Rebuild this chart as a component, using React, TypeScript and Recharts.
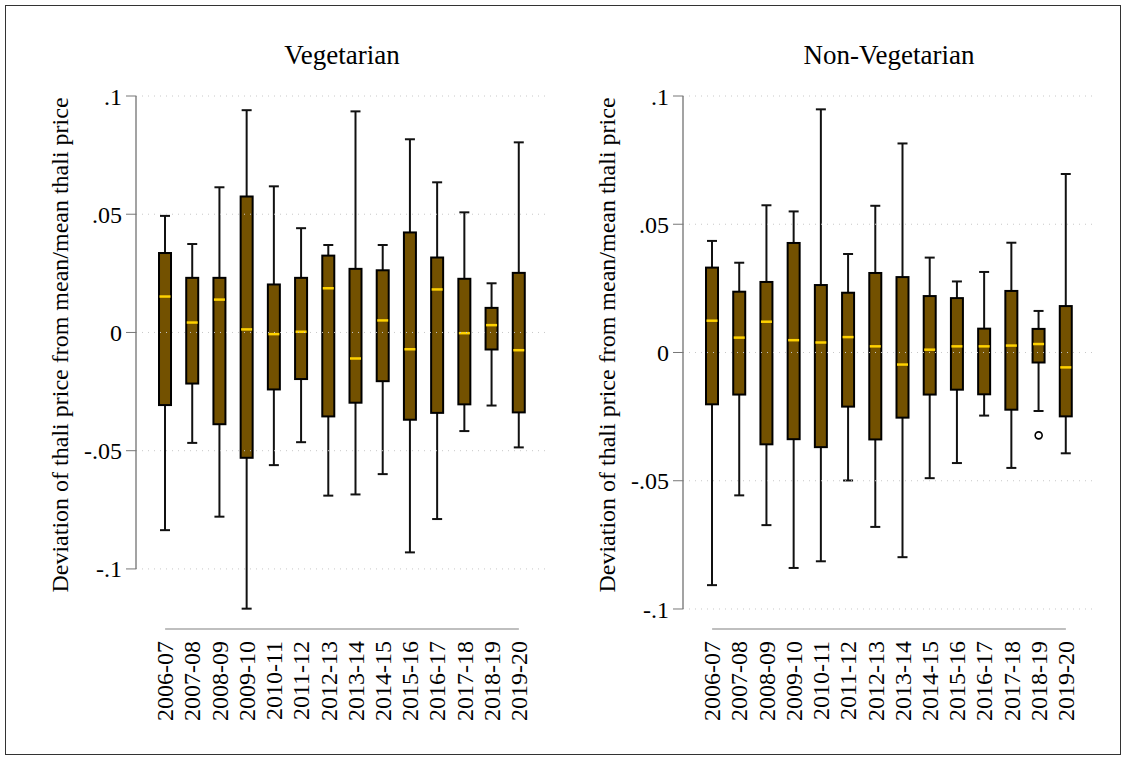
import React from 'react';
import { ComposedChart, Bar, Scatter, XAxis, YAxis, ReferenceLine } from 'recharts';

const years = [
  '2006-07', '2007-08', '2008-09', '2009-10', '2010-11', '2011-12', '2012-13',
  '2013-14', '2014-15', '2015-16', '2016-17', '2017-18', '2018-19', '2019-20',
];

// Vegetarian thali: whisker ends, quartiles and medians
const vegMin = [-0.0836, -0.0467, -0.0779, -0.1168, -0.0561, -0.0464, -0.069, -0.0685, -0.0599, -0.093, -0.0789, -0.0417, -0.0309, -0.0486];
const vegQ1 = [-0.0307, -0.0216, -0.0388, -0.053, -0.0241, -0.0197, -0.0355, -0.0297, -0.0206, -0.0369, -0.034, -0.0304, -0.0072, -0.0338];
const vegMedian = [0.0152, 0.0042, 0.0139, 0.0013, -0.0007, 0.0003, 0.0187, -0.011, 0.0051, -0.0071, 0.0182, -0.0003, 0.0031, -0.0075];
const vegQ3 = [0.0336, 0.0231, 0.0231, 0.0575, 0.0203, 0.0231, 0.0325, 0.0269, 0.0263, 0.0423, 0.0317, 0.0227, 0.0104, 0.0252];
const vegMax = [0.0493, 0.0374, 0.0614, 0.094, 0.0618, 0.0441, 0.037, 0.0935, 0.037, 0.0817, 0.0635, 0.0508, 0.0208, 0.0804];

// Non-vegetarian thali
const nonVegMin = [-0.0907, -0.0557, -0.0673, -0.084, -0.0814, -0.0499, -0.068, -0.0798, -0.049, -0.0431, -0.0246, -0.045, -0.0228, -0.0393];
const nonVegQ1 = [-0.0202, -0.0164, -0.0358, -0.0338, -0.0369, -0.0211, -0.0339, -0.0254, -0.0164, -0.0145, -0.0163, -0.0223, -0.0039, -0.0249];
const nonVegMedian = [0.0124, 0.0058, 0.012, 0.0048, 0.0039, 0.006, 0.0024, -0.0047, 0.0011, 0.0024, 0.0024, 0.0027, 0.0033, -0.0058];
const nonVegQ3 = [0.0331, 0.0237, 0.0275, 0.0427, 0.0263, 0.0233, 0.031, 0.0294, 0.022, 0.0212, 0.0093, 0.024, 0.0092, 0.0181];
const nonVegMax = [0.0435, 0.035, 0.0574, 0.055, 0.0948, 0.0384, 0.0572, 0.0815, 0.037, 0.0277, 0.0314, 0.0428, 0.0162, 0.0696];
const nonVegOutlierYears = ['2018-19'];
const nonVegOutlierValues = [-0.0323];

const yTicks = [-0.1, -0.05, 0, 0.05, 0.1];

const FONT = '"Liberation Serif", "Times New Roman", serif';
const BOX_FILL = '#735100';
const MEDIAN = '#ffd200';

const fmtTick = (v: number) => {
  if (v === 0) return '0';
  return String(v).replace('0.', '.');
};

const BoxShape = (props: any) => {
  const { x, y, width, height, payload } = props;
  if (x == null || y == null) return null;
  const top = Math.min(y, y + height);
  const bottom = Math.max(y, y + height);
  const span = payload.max - payload.min;
  const toPx = (v: number) => top + ((payload.max - v) / span) * (bottom - top);
  const cx = x + width / 2;
  const q3y = toPx(payload.q3);
  const q1y = toPx(payload.q1);
  const my = toPx(payload.median);
  return (
    <g>
      <line x1={cx} x2={cx} y1={top} y2={q3y} stroke="#111" strokeWidth={2} />
      <line x1={cx} x2={cx} y1={q1y} y2={bottom} stroke="#111" strokeWidth={2} />
      <line x1={cx - 5} x2={cx + 5} y1={top} y2={top} stroke="#111" strokeWidth={2} />
      <line x1={cx - 5} x2={cx + 5} y1={bottom} y2={bottom} stroke="#111" strokeWidth={2} />
      <rect x={cx - 6} y={q3y} width={12} height={q1y - q3y} fill={BOX_FILL} stroke="#000" strokeWidth={2} />
      <line x1={cx - 5.5} x2={cx + 5.5} y1={my} y2={my} stroke={MEDIAN} strokeWidth={2.5} />
    </g>
  );
};

const YearTick = (props: any) => {
  const { x, y, payload } = props;
  return (
    <text
      x={x}
      y={y}
      transform={`rotate(-90, ${x}, ${y})`}
      textAnchor="end"
      dy="0.34em"
      fontSize={24}
      fontFamily={FONT}
      fill="#000"
    >
      {years[payload.value - 1]}
    </text>
  );
};

interface PanelProps {
  mins: number[];
  q1s: number[];
  medians: number[];
  q3s: number[];
  maxs: number[];
  yMin: number;
  outlierYears?: string[];
  outlierValues?: number[];
  left: number;
}

const Panel: React.FC<PanelProps> = ({ mins, q1s, medians, q3s, maxs, yMin, outlierYears = [], outlierValues = [], left }) => {
  const data = years.map((year, i) => ({
    year,
    pos: i + 1,
    min: mins[i],
    q1: q1s[i],
    median: medians[i],
    q3: q3s[i],
    max: maxs[i],
  }));
  const outliers = outlierYears.map((yr, i) => ({ pos: years.indexOf(yr) + 1, value: outlierValues[i] }));
  const xMin = -0.07;
  const xMax = 15.07;

  return (
    <div style={{ position: 'absolute', left, top: 0 }}>
      <ComposedChart width={562} height={757} data={data} margin={{ top: 96, right: 14, bottom: 28, left: 56 }}>
        <XAxis
          type="number"
          dataKey="pos"
          domain={[xMin, xMax]}
          ticks={years.map((_, i) => i + 1)}
          interval={0}
          allowDataOverflow
          axisLine={false}
          tickLine={false}
          tick={<YearTick />}
          tickMargin={6}
          height={100}
        />
        <YAxis
          type="number"
          domain={[yMin, 0.1]}
          ticks={yTicks}
          allowDataOverflow
          axisLine={false}
          tickLine={{ stroke: '#777' }}
          tickSize={10}
          tickMargin={4}
          width={80}
          tickFormatter={fmtTick}
          tick={{ fontSize: 24, fontFamily: FONT, fill: '#000' }}
        />
        {yTicks.map((t) => (
          <ReferenceLine key={t} y={t} stroke="#c8c8c8" strokeDasharray="1 5" ifOverflow="visible" />
        ))}
        <ReferenceLine
          segment={[{ x: xMin, y: 0.1 }, { x: xMin, y: -0.1 }]}
          stroke="#666"
          strokeWidth={1.2}
          ifOverflow="visible"
        />
        <ReferenceLine
          segment={[{ x: 1, y: yMin }, { x: 14, y: yMin }]}
          stroke="#aaa"
          strokeWidth={1.5}
          ifOverflow="visible"
        />
        <Bar
          dataKey={(d: any) => [d.min, d.max]}
          barSize={13}
          shape={<BoxShape />}
          isAnimationActive={false}
        />
        {outliers.length > 0 && (
          <Scatter
            data={outliers}
            dataKey="value"
            isAnimationActive={false}
            shape={(p: any) => <circle cx={p.cx} cy={p.cy} r={3.5} fill="none" stroke="#000" strokeWidth={1.6} />}
          />
        )}
      </ComposedChart>
    </div>
  );
};

export default function App() {
  return (
    <div style={{ position: 'relative', width: 1124, height: 757, background: '#fff', fontFamily: FONT }}>
      <style>{'body{margin:0}'}</style>
      <div
        style={{
          position: 'absolute',
          left: 5,
          top: 5,
          width: 1116,
          height: 750,
          border: '1px solid #333',
          boxSizing: 'border-box',
        }}
      />
      <svg width={1124} height={757} style={{ position: 'absolute', left: 0, top: 0 }}>
        <text x={342} y={64} textAnchor="middle" fontSize={27} fontFamily={FONT} fill="#000">Vegetarian</text>
        <text x={889} y={64} textAnchor="middle" fontSize={27} fontFamily={FONT} fill="#000">Non-Vegetarian</text>
        <text
          x={60}
          y={345}
          transform="rotate(-90, 60, 345)"
          textAnchor="middle"
          dy="0.34em"
          fontSize={24}
          fontFamily={FONT}
          fill="#000"
        >
          Deviation of thali price from mean/mean thali price
        </text>
        <text
          x={607}
          y={345}
          transform="rotate(-90, 607, 345)"
          textAnchor="middle"
          dy="0.34em"
          fontSize={24}
          fontFamily={FONT}
          fill="#000"
        >
          Deviation of thali price from mean/mean thali price
        </text>
      </svg>
      <Panel mins={vegMin} q1s={vegQ1} medians={vegMedian} q3s={vegQ3} maxs={vegMax} yMin={-0.1254} left={0} />
      <Panel
        mins={nonVegMin}
        q1s={nonVegQ1}
        medians={nonVegMedian}
        q3s={nonVegQ3}
        maxs={nonVegMax}
        yMin={-0.1078}
        outlierYears={nonVegOutlierYears}
        outlierValues={nonVegOutlierValues}
        left={547}
      />
    </div>
  );
}
